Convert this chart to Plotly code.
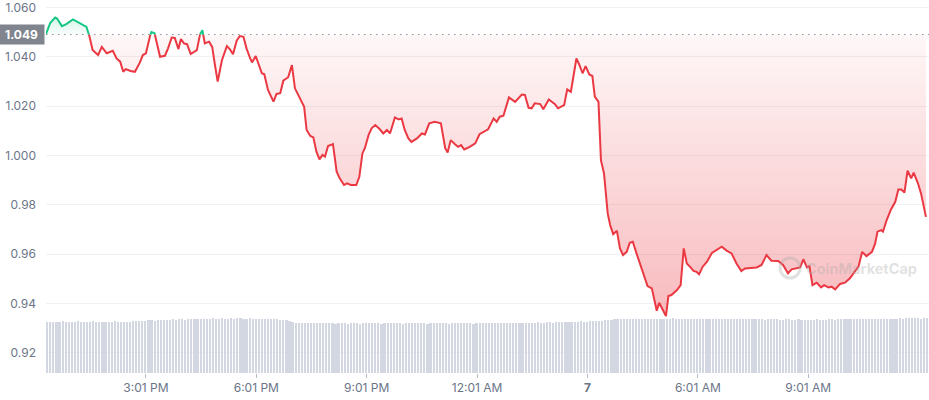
import plotly.graph_objects as go
import pandas as pd

# ---------------- data ----------------
start_time = "2023-03-06 12:18"
end_time = "2023-03-07 12:18"
base_price = 1.049

price_minutes = [0,7,15,18,26,33,44,53,61,66,71,76,85,91,99,109,115,121,126,130,138,145,153,158,163,170,172,177,181,186,194,199,205,210,216,220,225,230,236,246,251,255,259,266,271,276,280,287,295,300,305,311,316,322,327,333,336,342,346,352,356,362,371,376,382,387,395,401,406,414,421,425,431,436,441,446,451,455,460,468,474,479,486,491,497,506,511,516,520,526,531,537,544,550,556,561,569,575,580,585,591,596,605,613,618,625,634,644,651,655,660,667,672,677,682,691,700,707,711,721,730,735,740,746,755,765,776,781,787,792,797,806,811,820,830,835,845,850,856,859,865,870,875,880,886,891,895,901,905,910,916,920,925,931,936,941,947,952,957,963,969,975,981,988,992,996,1000,1006,1011,1015,1020,1029,1035,1040,1045,1050,1056,1061,1065,1071,1078,1086,1094,1102,1110,1118,1126,1134,1140,1151,1159,1167,1175,1183,1194,1202,1210,1216,1224,1230,1235,1241,1245,1250,1257,1264,1269,1276,1281,1287,1295,1303,1311,1317,1325,1331,1338,1347,1352,1356,1362,1365,1371,1378,1385,1390,1395,1400,1405,1411,1415,1422,1427,1435]

price = [1.0492,1.0538,1.0559,1.0555,1.0524,1.0532,1.0551,1.0538,1.0525,1.0521,1.0481,1.0427,1.0407,1.0440,1.0414,1.0424,1.0393,1.0380,1.0339,1.0350,1.0342,1.0339,1.0376,1.0407,1.0414,1.0488,1.0500,1.0495,1.0454,1.0400,1.0404,1.0434,1.0478,1.0476,1.0431,1.0472,1.0454,1.0451,1.0411,1.0427,1.0488,1.0508,1.0454,1.0461,1.0440,1.0359,1.0299,1.0387,1.0443,1.0430,1.0410,1.0465,1.0484,1.0481,1.0434,1.0393,1.0377,1.0403,1.0376,1.0333,1.0329,1.0265,1.0218,1.0249,1.0252,1.0303,1.0317,1.0366,1.0272,1.0231,1.0197,1.0103,1.0079,1.0073,1.0015,0.9984,1.0002,0.9995,1.0038,1.0046,0.9934,0.9907,0.9880,0.9887,0.9880,0.9880,0.9913,1.0008,1.0029,1.0082,1.0110,1.0123,1.0107,1.0089,1.0103,1.0089,1.0154,1.0146,1.0150,1.0103,1.0069,1.0055,1.0069,1.0089,1.0085,1.0130,1.0136,1.0130,1.0029,1.0012,1.0062,1.0045,1.0035,1.0042,1.0024,1.0035,1.0049,1.0086,1.0092,1.0106,1.0150,1.0136,1.0157,1.0161,1.0235,1.0217,1.0247,1.0245,1.0193,1.0191,1.0211,1.0208,1.0187,1.0227,1.0208,1.0191,1.0204,1.0268,1.0258,1.0305,1.0393,1.0366,1.0333,1.0362,1.0328,1.0322,1.0238,1.0217,0.9981,0.9927,0.9765,0.9718,0.9681,0.9695,0.9623,0.9596,0.9609,0.9646,0.9650,0.9603,0.9556,0.9508,0.9470,0.9461,0.9414,0.9370,0.9403,0.9376,0.9349,0.9430,0.9434,0.9454,0.9474,0.9623,0.9562,0.9549,0.9532,0.9528,0.9518,0.9549,0.9569,0.9605,0.9616,0.9630,0.9614,0.9603,0.9562,0.9531,0.9542,0.9546,0.9546,0.9556,0.9596,0.9573,0.9572,0.9556,0.9522,0.9538,0.9542,0.9546,0.9579,0.9546,0.9551,0.9474,0.9484,0.9465,0.9474,0.9465,0.9468,0.9457,0.9479,0.9484,0.9502,0.9522,0.9549,0.9609,0.9592,0.9609,0.9641,0.9691,0.9697,0.9691,0.9738,0.9781,0.9812,0.9862,0.9862,0.9849,0.9938,0.9907,0.9930,0.9887,0.9846,0.9751]

volume = [
    1.00,1.00,0.99,1.00,1.00,1.01,1.00,0.99,1.00,1.00,1.01,1.00,
    1.00,0.99,1.00,1.01,1.00,1.00,0.99,1.00,1.00,1.00,1.01,1.00,
    1.00,1.00,0.99,1.00,1.01,1.01,1.02,1.02,1.02,1.03,1.03,1.02,
    1.03,1.04,1.03,1.04,1.04,1.05,1.04,1.05,1.05,1.04,1.05,1.06,
    1.05,1.06,1.06,1.05,1.06,1.06,1.07,1.06,1.06,1.07,1.06,1.06,
    1.07,1.06,1.07,1.07,1.06,1.06,1.07,1.06,1.05,1.06,1.06,1.05,
    1.05,1.06,1.05,1.05,1.04,1.04,1.03,1.02,0.99,0.98,0.98,0.97,
    0.98,0.97,0.98,0.97,0.97,0.98,0.97,0.97,0.98,0.97,0.96,0.97,
    0.97,0.97,0.96,0.97,0.97,0.97,0.96,0.97,0.97,0.98,0.97,0.97,
    0.97,0.96,0.97,0.97,0.97,0.98,0.97,0.97,0.96,0.97,0.97,0.97,
    0.98,0.97,0.97,0.97,0.96,0.97,0.97,0.97,0.98,0.97,0.97,0.96,
    0.97,0.97,0.97,0.98,0.97,0.97,0.97,0.96,0.97,0.97,0.98,0.97,
    0.97,0.97,0.98,0.97,0.97,0.98,0.98,0.97,0.98,0.98,0.98,0.97,
    0.98,0.98,0.98,0.98,0.99,0.98,0.98,0.99,0.99,0.98,0.99,0.99,
    0.99,1.00,1.00,0.99,1.00,1.00,1.01,1.00,1.00,1.01,1.01,1.01,
    1.02,1.02,1.03,1.03,1.04,1.05,1.05,1.06,1.06,1.06,1.05,1.06,
    1.06,1.06,1.05,1.06,1.06,1.06,1.05,1.05,1.06,1.05,1.06,1.06,
    1.07,1.06,1.06,1.06,1.05,1.06,1.06,1.06,1.05,1.05,1.05,1.06,
    1.06,1.05,1.06,1.06,1.05,1.05,1.06,1.06,1.05,1.05,1.05,1.05,
    1.06,1.05,1.05,1.06,1.05,1.05,1.04,1.05,1.05,1.05,1.05,1.04,
    1.04,1.05,1.05,1.04,1.04,1.05,1.04,1.04,1.03,1.04,1.04,1.05,
    1.04,1.04,1.04,1.05,1.05,1.04,1.05,1.05,1.05,1.05,1.06,1.05,
    1.05,1.05,1.06,1.05,1.05,1.05,1.06,1.05,1.06,1.06,1.06,1.06,
    1.06,1.06,1.07,1.06,1.07,1.07,1.07,1.07,1.07,1.06,1.07,1.07,
]

x_tick_times = ["2023-03-06 15:01", "2023-03-06 18:01", "2023-03-06 21:01",
                "2023-03-07 00:01", "2023-03-07 03:01", "2023-03-07 06:01",
                "2023-03-07 09:01"]
x_tick_labels = ["3:01 PM", "6:01 PM", "9:01 PM", "12:01 AM", "<b>7</b>", "6:01 AM", "9:01 AM"]

y_tick_values = [0.92, 0.94, 0.96, 0.98, 1.00, 1.02, 1.04, 1.06]
y_tick_labels = ["0.92", "0.94", "0.96", "0.98", "1.000", "1.020", "1.040", "1.060"]

# ---------------- derived ----------------
RED = "#ea3943"
GREEN = "#16c784"
t0 = pd.Timestamp(start_time)
n = min(len(price_minutes), len(price))
times = [t0 + pd.Timedelta(minutes=m) for m in price_minutes[:n]]
p = price[:n]

xs, ys = [], []
for i in range(n):
    if i > 0 and (p[i - 1] - base_price) * (p[i] - base_price) < 0:
        f = (base_price - p[i - 1]) / (p[i] - p[i - 1])
        xs.append(times[i - 1] + (times[i] - times[i - 1]) * f)
        ys.append(base_price)
    xs.append(times[i])
    ys.append(p[i])

red_fill = [min(v, base_price) for v in ys]
green_fill = [max(v, base_price) for v in ys]
red_line = [v if v <= base_price else None for v in ys]
green_line = [v if v >= base_price else None for v in ys]
base_line = [base_price] * len(ys)

vol_times = [t0 + pd.Timedelta(minutes=2.5 + 5 * i) for i in range(len(volume))]

fig = go.Figure()

fig.add_trace(go.Bar(x=vol_times, y=volume, yaxis="y", width=2.7 * 60 * 1000,
                     marker=dict(color="#d2d7e1", line=dict(width=0)),
                     hoverinfo="skip", showlegend=False))

fig.add_trace(go.Scatter(x=xs, y=base_line, yaxis="y2", mode="lines",
                         line=dict(width=0), hoverinfo="skip", showlegend=False))
fig.add_trace(go.Scatter(x=xs, y=red_fill, yaxis="y2", mode="lines",
                         line=dict(width=0), fill="tonexty",
                         fillgradient=dict(type="vertical", start=0.93, stop=base_price,
                                           colorscale=[[0, "rgba(234,57,67,0.36)"],
                                                       [1, "rgba(234,57,67,0.04)"]]),
                         hoverinfo="skip", showlegend=False))
fig.add_trace(go.Scatter(x=xs, y=base_line, yaxis="y2", mode="lines",
                         line=dict(width=0), hoverinfo="skip", showlegend=False))
fig.add_trace(go.Scatter(x=xs, y=green_fill, yaxis="y2", mode="lines",
                         line=dict(width=0), fill="tonexty",
                         fillgradient=dict(type="vertical", start=base_price, stop=1.057,
                                           colorscale=[[0, "rgba(22,199,132,0.03)"],
                                                       [1, "rgba(22,199,132,0.22)"]]),
                         hoverinfo="skip", showlegend=False))
fig.add_trace(go.Scatter(x=xs, y=red_line, yaxis="y2", mode="lines",
                         line=dict(color=RED, width=2), connectgaps=False,
                         showlegend=False))
fig.add_trace(go.Scatter(x=xs, y=green_line, yaxis="y2", mode="lines",
                         line=dict(color=GREEN, width=2), connectgaps=False,
                         showlegend=False))

axis_font = dict(family="Inter, Roboto, sans-serif", size=12, color="#6b7588")

fig.update_layout(
    width=929, height=400,
    margin=dict(l=46, r=0, t=0, b=27, autoexpand=False),
    paper_bgcolor="white", plot_bgcolor="white",
    showlegend=False,
    bargap=0,
    xaxis=dict(type="date", range=[start_time, end_time],
               tickvals=x_tick_times, ticktext=x_tick_labels,
               showgrid=False, zeroline=False, showline=False,
               ticks="outside", ticklen=4, tickcolor="#b8bdc8", tickwidth=1,
               tickfont=axis_font, automargin=False),
    yaxis=dict(range=[0, 7.27], visible=False, fixedrange=True, automargin=False),
    yaxis2=dict(range=[0.9118, 1.0630], overlaying="y", side="left",
                tickvals=y_tick_values, ticktext=y_tick_labels,
                showgrid=True, gridcolor="#f0f1f3", gridwidth=1,
                zeroline=False, showline=False, ticks="",
                ticklabelstandoff=9, ticklabeloverflow="allow",
                tickfont=axis_font, automargin=False),
    shapes=[
        dict(type="line", xref="paper", x0=0, x1=1, yref="y2",
             y0=base_price, y1=base_price,
             line=dict(color="#8a8f99", width=1, dash="1.5px,4.5px")),
        dict(type="circle", xref="paper", yref="paper",
             x0=0.8313, x1=0.8539, y0=0.2547, y1=0.3083,
             line=dict(color="rgba(170,170,170,0.35)", width=3)),
    ],
    annotations=[
        dict(xref="paper", x=0, xanchor="right", xshift=-1,
             yref="y2", y=base_price, yanchor="middle",
             text="<b>1.049</b>", showarrow=False,
             bgcolor="#80848e", width=41, height=15, borderpad=2,
             font=dict(family="Inter, Roboto, sans-serif", size=12, color="white")),
        dict(xref="paper", x=0.8585, xanchor="left", yref="paper", y=0.279,
             yanchor="middle", text="<b>CoinMarketCap</b>", showarrow=False,
             font=dict(family="Inter, Roboto, sans-serif", size=14.5,
                       color="rgba(170,170,170,0.35)")),
    ],
)

fig.write_html("out.html", config={"displayModeBar": False},
               post_script="document.body.style.margin='0px';document.body.style.overflow='hidden';")
